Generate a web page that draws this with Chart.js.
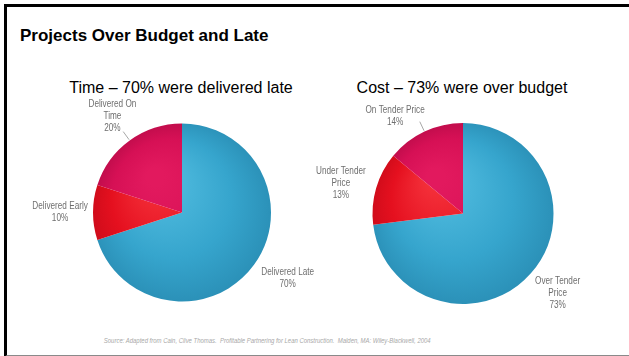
<!DOCTYPE html>
<html>
<head>
<meta charset="utf-8">
<script src="https://cdn.jsdelivr.net/npm/chart.js@4.4.0/dist/chart.umd.min.js"></script>
<style>
  body { margin: 0; background: #fff; width: 629px; height: 356px; overflow: hidden; font-family: 'Liberation Sans', Arial, sans-serif; }
  #frame { position: absolute; left: 4px; top: 4px; width: 625px; height: 348px; border-left: 3px solid #000; border-top: 3px solid #000; border-bottom: 2px solid #8a8a8a; }
  #heading { position: absolute; left: 20px; top: 26px; font-size: 17px; font-weight: bold; color: #000; }
  .subtitle { position: absolute; top: 79px; width: 300px; text-align: center; font-size: 16px; color: #000; }
  .box { position: absolute; top: 75px; width: 300px; height: 245px; }
  #source { position: absolute; left: 0; top: 337px; width: 534px; text-align: center; font-size: 7px; font-style: italic; color: #a8a8a8; }
  #source span { display: inline-block; transform: scaleX(0.85); white-space: nowrap; }
</style>
</head>
<body>
<div id="frame"></div>
<div id="heading">Projects Over Budget and Late</div>
<div class="subtitle" style="left:31px">Time – 70% were delivered late</div>
<div class="subtitle" style="left:312px">Cost – 73% were over budget</div>
<div class="box" style="left:20px"><canvas id="timeChart" width="300" height="245"></canvas></div>
<div class="box" style="left:300px"><canvas id="costChart" width="300" height="245"></canvas></div>
<div id="source"><span>Source: Adapted from Cain, Clive Thomas.&nbsp; Profitable Partnering for Lean Construction.&nbsp; Malden, MA: Wiley-Blackwell, 2004</span></div>

<script>
// 데이터
const timeLabels = [['Delivered Late', '70%'], ['Delivered Early', '10%'], ['Delivered On', 'Time', '20%']];
const timeValues = [70, 10, 20];
const costLabels = [['Over Tender', 'Price', '73%'], ['Under Tender', 'Price', '13%'], ['On Tender Price', '14%']];
const costValues = [73, 13, 14];

// 조각 색상 (파랑, 빨강, 진홍)
const sliceColors = [
    ['#52bde0', '#36a5cd', '#2a8fb6'],
    ['#f4303a', '#e5101f', '#cc0b1a'],
    ['#e2195e', '#d61055', '#bc0c4a']
];

function sliceFill(context) {
    const chart = context.chart;
    const area = chart.chartArea;
    if (!area) return sliceColors[context.dataIndex][1];
    const c = sliceColors[context.dataIndex];
    const cx = (area.left + area.right) / 2;
    const cy = (area.top + area.bottom) / 2;
    const r = Math.min(area.width, area.height) / 2;
    const g = chart.ctx.createRadialGradient(cx - r * 0.3, cy - r * 0.4, r * 0.1, cx, cy, r * 1.05);
    g.addColorStop(0, c[0]);
    g.addColorStop(0.6, c[1]);
    g.addColorStop(1, c[2]);
    return g;
}

// 바깥 라벨 플러그인 (좁은 글꼴 흉내: 가로 0.82배)
const outsideLabels = {
    id: 'outsideLabels',
    afterDatasetsDraw(chart, args, opts) {
        const ctx = chart.ctx;
        const meta = chart.getDatasetMeta(0);
        const labels = chart.data.labels;
        ctx.save();
        ctx.font = "10px 'Liberation Sans', sans-serif";
        ctx.fillStyle = '#6e6e6e';
        ctx.textAlign = 'center';
        ctx.textBaseline = 'middle';
        meta.data.forEach(function (arc, i) {
            const p = arc.getProps(['x', 'y', 'startAngle', 'endAngle', 'outerRadius'], true);
            const mid = (p.startAngle + p.endAngle) / 2 + (opts.shift[i] || 0);
            const dist = p.outerRadius * opts.factor[i];
            const lx = p.x + Math.cos(mid) * dist;
            const ly = p.y + Math.sin(mid) * dist;
            const lines = labels[i];
            const lh = 12;
            const top = ly - (lines.length - 1) * lh / 2;
            lines.forEach(function (t, k) {
                ctx.save();
                ctx.translate(lx, top + k * lh);
                ctx.scale(0.82, 1);
                ctx.fillText(t, 0, 0);
                ctx.restore();
            });
            if (opts.leader[i]) {
                const realMid = (p.startAngle + p.endAngle) / 2;
                ctx.strokeStyle = '#909090';
                ctx.lineWidth = 0.8;
                ctx.beginPath();
                ctx.moveTo(p.x + Math.cos(realMid) * (p.outerRadius + 1), p.y + Math.sin(realMid) * (p.outerRadius + 1));
                ctx.lineTo(p.x + Math.cos(realMid) * (p.outerRadius + 11), p.y + Math.sin(realMid) * (p.outerRadius + 11));
                ctx.stroke();
            }
        });
        ctx.restore();
    }
};

function makePie(id, labels, values, padding, labelOpts) {
    return new Chart(document.getElementById(id), {
        type: 'pie',
        data: {
            labels: labels,
            datasets: [{
                data: values,
                backgroundColor: sliceFill,
                borderWidth: 0,
                hoverOffset: 0
            }]
        },
        options: {
            responsive: false,
            animation: false,
            events: [],
            layout: { padding: padding },
            plugins: {
                legend: { display: false },
                tooltip: { enabled: false },
                outsideLabels: labelOpts
            }
        },
        plugins: [outsideLabels]
    });
}

makePie('timeChart', timeLabels, timeValues,
    { left: 73, right: 49, top: 48, bottom: 18 },
    { factor: [1.4, 1.37, 1.33], shift: [-0.07, 0, 0], leader: [false, false, true] });

makePie('costChart', costLabels, costValues,
    { left: 72, right: 46, top: 48, bottom: 16 },
    { factor: [1.37, 1.39, 1.31], shift: [-0.02, -0.04, -0.17], leader: [false, false, true] });
</script>
</body>
</html>
